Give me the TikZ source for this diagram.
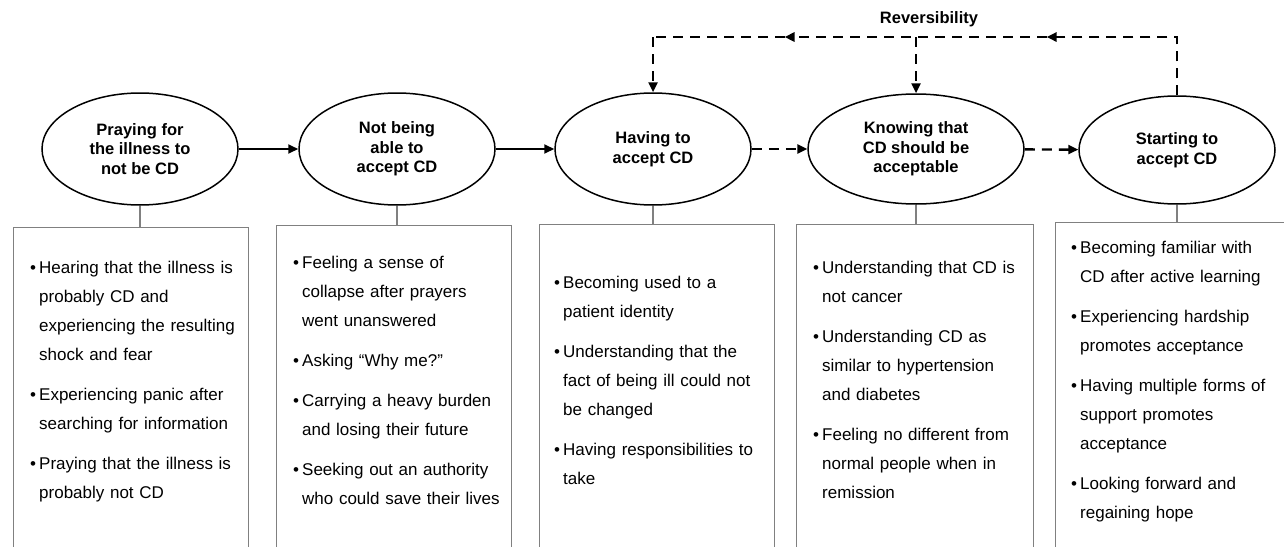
\documentclass[tikz,border=0pt]{standalone}
\usepackage{fontspec}
\setmainfont{Liberation Sans}
\usetikzlibrary{arrows.meta,shapes.geometric,calc}

\newcommand{\stagefont}{\bfseries\fontsize{16.5}{19.5}\selectfont}
\newcommand{\itemfont}{\fontsize{17}{29}\selectfont\setlength{\parskip}{11pt}}
% one bullet point, the lines after the first hang under the text
\newcommand{\bit}[1]{\hangindent=9pt\hangafter=1\makebox[9pt][l]{\textbullet}#1\par}
\newcommand{\nl}{\hfil\break}

\begin{document}
\begin{tikzpicture}[x=1pt,y=-1pt,
    stage/.style={ellipse,draw,line width=1.5pt,minimum width=196pt,minimum height=112pt,
      inner sep=0pt,align=center,font=\stagefont},
    pane/.style={draw=black!50,line width=1.4pt,anchor=north west,inner sep=0pt,
      minimum width=235pt,minimum height=360pt},
    list/.style={anchor=base west,inner sep=0pt,text width=215pt,font=\itemfont},
    flow/.style={line width=1.8pt,-{Triangle[length=10pt,width=9pt]}},
    back/.style={flow,line width=2.4pt,dash pattern=on 10pt off 7pt},
    link/.style={draw=black!50,line width=1.4pt}]
  \useasboundingbox (0,0) rectangle (1284,546);
  \clip (0,0) rectangle (1284,546);

  %%%%% stages %%%%%
  \node[stage] (s1) at (140,149) {Praying for\\the illness to\\not be CD};
  \node[stage] (s2) at (397,149) {Not being\\able to\\accept CD};
  \node[stage] (s3) at (653,149) {Having to\\accept CD};
  \node[stage,minimum width=216pt,minimum height=110pt] (s4) at (916,149) {Knowing that\\CD should be\\acceptable};
  \node[stage,minimum height=108pt] (s5) at (1177,150) {Starting to\\accept CD};

  \draw[flow] (s1) -- (s2);
  \draw[flow] (s2) -- (s3);
  \draw[back] (s3) -- (s4);
  \draw[back] (s4) -- (s5);

  %%%%% reversibility %%%%%
  \node[font=\stagefont] (rev) at (929,19) {Reversibility};
  \coordinate (r5) at (s5.north |- 0,37);
  \coordinate (r4) at (s4.north |- 0,37);
  \coordinate (r3) at (s3.north |- 0,37);
  \draw[back] (s5.north) -- (r5) -- ($(r5)!0.5!(r4)$);
  \draw[back] ($(r5)!0.5!(r4)$) -- (r4) -- ($(r4)!0.5!(r3)$);
  \draw[back,-] ($(r4)!0.5!(r3)$) -- (r3);
  \draw[back] (r3) -- (s3.north);
  \draw[back] (r4) -- (s4.north);

  %%%%% boxes %%%%%
  \node[pane] (p1) at (13,227) {};
  \node[pane] (p2) at (276,225) {};
  \node[pane] (p3) at (539,224) {};
  \node[pane,minimum width=237pt] (p4) at (796,224) {};
  \node[pane] (p5) at (1055,222) {};

  \foreach \i in {1,...,5}
    \draw[link] (s\i.south) -- (s\i.south |- p\i.north);

  \node[list] (l1) at (30,273) {%
    \bit{Hearing that the illness is\nl probably CD and\nl experiencing the resulting\nl shock and fear}
    \bit{Experiencing panic after\nl searching for information}
    \bit{Praying that the illness is\nl probably not CD}};
  \node[list] (l2) at (293,268) {%
    \bit{Feeling a sense of\nl collapse after prayers\nl went unanswered}
    \bit{Asking “Why me?”}
    \bit{Carrying a heavy burden\nl and losing their future}
    \bit{Seeking out an authority\nl who could save their lives}};
  \node[list] (l3) at (554,288) {%
    \bit{Becoming used to a\nl patient identity}
    \bit{Understanding that the\nl fact of being ill could not\nl be changed}
    \bit{Having responsibilities to\nl take}};
  \node[list] (l4) at (813,273) {%
    \bit{Understanding that CD is\nl not cancer}
    \bit{Understanding CD as\nl similar to hypertension\nl and diabetes}
    \bit{Feeling no different from\nl normal people when in\nl remission}};
  \node[list] (l5) at (1071,253) {%
    \bit{Becoming familiar with\nl CD after active learning}
    \bit{Experiencing hardship\nl promotes acceptance}
    \bit{Having multiple forms of\nl support promotes\nl acceptance}
    \bit{Looking forward and\nl regaining hope}};
\end{tikzpicture}
\end{document}
